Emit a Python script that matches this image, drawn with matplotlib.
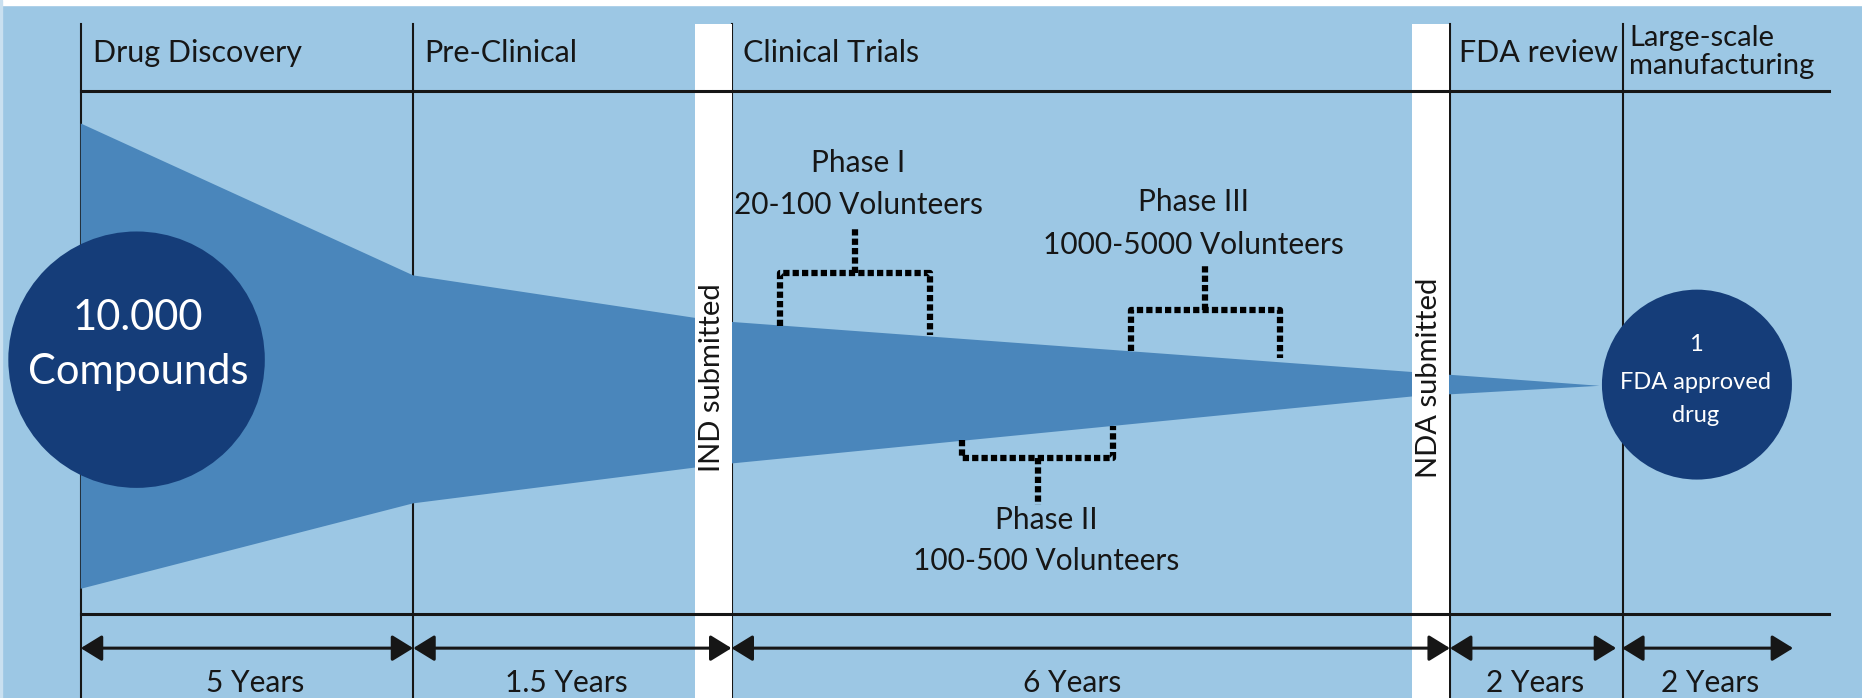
import matplotlib.pyplot as plt
from matplotlib.patches import Circle, Polygon, Rectangle

plt.rcParams['font.family'] = ['Lato', 'DejaVu Sans']

# ---- data ----
stages = ["Drug Discovery", "Pre-Clinical", "Clinical Trials", "FDA review", "Large-scale", "manufacturing"]
durations = ["5 Years", "1.5 Years", "6 Years", "2 Years", "2 Years"]
milestones = ["IND submitted", "NDA submitted"]
phases = ["Phase I", "Phase II", "Phase III"]
volunteers = ["20-100 Volunteers", "100-500 Volunteers", "1000-5000 Volunteers"]
start_label = ["10.000", "Compounds"]
end_label = ["1", "FDA approved", "drug"]

# funnel outline (shrinking number of compounds)
funnel_x = [68, 348, 600, 1347, 1189, 600, 348, 68]
funnel_y = [104, 232, 270, 325, 334, 392, 424, 496]

# ---- layout ----
bg = "#9cc7e4"
funnel_c = "#4a86bb"
circle_c = "#153d79"
ink = "#161616"

bounds = [68, 348, 616, 1221, 1367]
arrow_ends = [(68, 348), (348, 616), (616, 1221), (1221, 1361), (1366, 1510)]
white_bars = [585, 1189]
bar_w = 31

fig = plt.figure(figsize=(18.62, 6.98), dpi=100)
fig.patch.set_facecolor(bg)
ax = fig.add_axes([0, 0, 1, 1])
ax.set_xlim(0, 1568)
ax.set_ylim(588, 0)
ax.axis("off")
ax.set_facecolor(bg)

ax.axhspan(0, 4, color="white", zorder=1)
ax.axvspan(0, 2, color="#c9e0f0", zorder=1)

# column separators (behind funnel)
for x in bounds:
    ax.plot([x, x], [20, 588], color=ink, lw=1.5, zorder=2)

ax.add_patch(Polygon(list(zip(funnel_x, funnel_y)), closed=True, color=funnel_c, lw=0, zorder=3))

# milestone bars
for x, lab in zip(white_bars, milestones):
    ax.add_patch(Rectangle((x, 20), bar_w, 568, color="white", lw=0, zorder=4))
    ax.text(x + bar_w / 2 - 1, 318, lab, rotation=90, ha="center", va="center",
            fontsize=21, color=ink, zorder=6)

# horizontal rules
ax.plot([68, 1540], [77, 77], color=ink, lw=2.2, zorder=5)
ax.plot([68, 1540], [517, 517], color=ink, lw=2.2, zorder=5)

# stage headers
head_x = [78, 357, 626, 1229]
for x, lab in zip(head_x, stages[:4]):
    ax.text(x, 45, lab, ha="left", va="center", fontsize=22, color=ink, zorder=6)
ax.text(1372, 32, stages[4], ha="left", va="center", fontsize=21, color=ink, zorder=6)
ax.text(1372, 56, stages[5], ha="left", va="center", fontsize=21, color=ink, zorder=6)

# durations
for (x0, x1), lab in zip(arrow_ends, durations):
    ax.annotate("", xy=(x1, 546), xytext=(x0, 546),
                arrowprops=dict(arrowstyle="<|-|>,head_length=0.65,head_width=0.4",
                                color=ink, lw=2.2, mutation_scale=20,
                                shrinkA=0, shrinkB=0), zorder=6)
dur_x = [215, 477, 903, 1293, 1440]
for x, lab in zip(dur_x, durations):
    ax.text(x, 575, lab, ha="center", va="center", fontsize=21.5, color=ink, zorder=6)

# phase brackets: (left, right, bar y, left leg end, right leg end, stem x, stem end)
brackets = [
    (657, 783, 230, 275, 282, 720, 191),
    (810, 937, 386, 371, 359, 874, 425),
    (952, 1078, 261, 296, 302, 1015, 223),
]
dots = dict(color="black", lw=4.5, ls=(0, (1, 0.5)), solid_capstyle="butt",
            dash_capstyle="butt", zorder=6)
for l, r, yb, yl, yr, xs, ys in brackets:
    ax.plot([l, l, r, r], [yl, yb, yb, yr], **dots)
    ax.plot([xs, xs], [yb, ys], **dots)

phase_pos = [(723, 137, 173), (881, 438, 473), (1005, 170, 206)]
for (x, y1, y2), ph, vol in zip(phase_pos, phases, volunteers):
    ax.text(x, y1, ph, ha="center", va="center", fontsize=21.5, color=ink, zorder=6)
    ax.text(x, y2, vol, ha="center", va="center", fontsize=21.5, color=ink, zorder=6)

# start / end circles
ax.add_patch(Circle((115, 303), 108, color=circle_c, lw=0, zorder=7))
for y, lab in zip([268, 313], start_label):
    ax.text(116, y, lab, ha="center", va="center", fontsize=30, color="white", zorder=8)
ax.add_patch(Circle((1429, 324), 80, color=circle_c, lw=0, zorder=7))
for y, lab in zip([290, 322, 350], end_label):
    ax.text(1428, y, lab, ha="center", va="center", fontsize=17, color="white", zorder=8)

fig.savefig("out.png", dpi=100, facecolor=bg)
